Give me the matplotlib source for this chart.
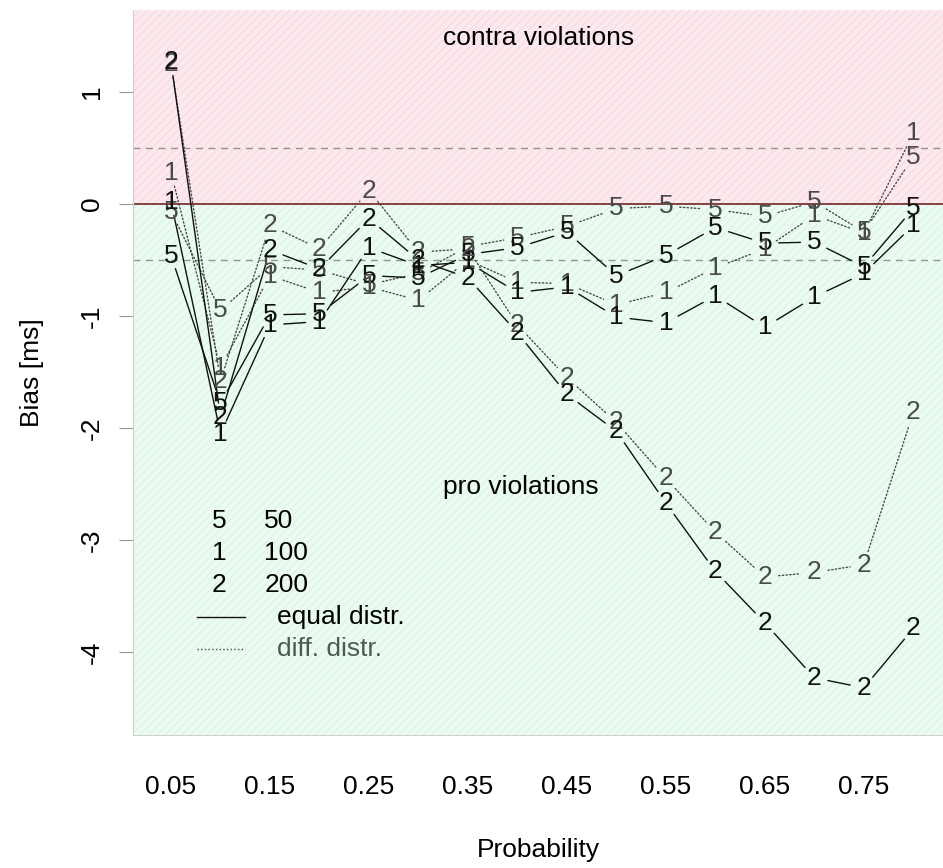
import matplotlib
matplotlib.use('Agg')
import matplotlib.pyplot as plt

plt.rcParams['font.family'] = ['Liberation Sans', 'DejaVu Sans']
plt.rcParams['hatch.linewidth'] = 0.5

# probabilities on the x axis
prob = [0.05, 0.10, 0.15, 0.20, 0.25, 0.30, 0.35, 0.40,
        0.45, 0.50, 0.55, 0.60, 0.65, 0.70, 0.75, 0.80]
tick_probs = [0.05, 0.15, 0.25, 0.35, 0.45, 0.55, 0.65, 0.75]

# bias [ms], equal / different distributions, per sample size
eq_50 = [-0.46, -1.78, -0.99, -0.98, -0.64, -0.66, -0.45, -0.39,
         -0.25, -0.64, -0.46, -0.21, -0.35, -0.34, -0.56, -0.04]
diff_50 = [-0.07, -0.95, -0.56, -0.59, -0.72, -0.62, -0.38, -0.30,
           -0.20, -0.04, -0.02, -0.05, -0.11, 0.02, -0.25, 0.42]
eq_100 = [0.02, -2.05, -1.08, -1.05, -0.39, -0.55, -0.52, -0.79,
          -0.74, -1.01, -1.06, -0.82, -1.10, -0.83, -0.62, -0.19]
diff_100 = [0.28, -1.46, -0.64, -0.79, -0.74, -0.86, -0.50, -0.70,
            -0.71, -0.90, -0.79, -0.57, -0.40, -0.10, -0.26, 0.63]
eq_200 = [1.27, -1.90, -0.41, -0.58, -0.13, -0.50, -0.66, -1.15,
          -1.70, -2.03, -2.67, -3.28, -3.74, -4.23, -4.32, -3.79]
diff_200 = [1.25, -1.58, -0.19, -0.40, 0.12, -0.43, -0.40, -1.08,
            -1.55, -1.95, -2.45, -2.93, -3.33, -3.29, -3.22, -1.86]

sizes = ['50', '100', '200']
symbols = ['5', '1', '2']

EQ_COL = '#111111'
DIFF_COL = '#4a4a4a'
FS = 19

fig = plt.figure(figsize=(9.43, 8.68), dpi=100)
ax = fig.add_axes([133 / 943, 1 - 735 / 868, 810 / 943, 725 / 868])
ymin, ymax = -4.741, 1.732
ax.set_xlim(0.0116, 0.830)
ax.set_ylim(ymin, ymax)

# shaded regions
ax.axhspan(0, ymax, facecolor='#fce9ee', edgecolor='#f6d0d9', hatch='////', lw=0, zorder=0)
ax.axhspan(ymin, 0, facecolor='#ecfbf1', edgecolor='#d0f0db', hatch='////', lw=0, zorder=0)
ax.axhline(0, color='#7a3434', lw=1.3, zorder=1)
ax.axhline(0.5, color='#9c8c8e', lw=1.0, ls=(0, (5, 4)), zorder=1)
ax.axhline(-0.5, color='#8c9a8e', lw=1.0, ls=(0, (5, 4)), zorder=1)

ax.text(0.421, 1.48, 'contra violations', ha='center', va='center', fontsize=FS)
ax.text(0.403, -2.53, 'pro violations', ha='center', va='center', fontsize=FS)


def draw(ys, sym, style, color):
    # R type="b": characters with gapped connecting segments
    for i in range(len(prob) - 1):
        ax.annotate('', xy=(prob[i + 1], ys[i + 1]), xytext=(prob[i], ys[i]),
                    arrowprops=dict(arrowstyle='-', color=color, lw=1.0,
                                    linestyle=style, shrinkA=10, shrinkB=10),
                    zorder=3)
    for x, y in zip(prob, ys):
        ax.text(x, y, sym, ha='center', va='center', fontsize=FS,
                color=color, zorder=4)


for ys_eq, ys_diff, sym in [(eq_50, diff_50, '5'), (eq_100, diff_100, '1'),
                            (eq_200, diff_200, '2')]:
    draw(ys_diff, sym, ':', DIFF_COL)
    draw(ys_eq, sym, '-', EQ_COL)

# legend (no box, R style)
rows = [0.295, 0.251, 0.207]
for sym, size, ry in zip(symbols, sizes, rows):
    ax.text(0.106, ry, sym, transform=ax.transAxes, ha='center', va='center', fontsize=FS)
    ax.text(0.162, ry, size, transform=ax.transAxes, ha='left', va='center', fontsize=FS)
ax.plot([0.079, 0.138], [0.163, 0.163], transform=ax.transAxes, color=EQ_COL, lw=1)
ax.text(0.178, 0.163, 'equal distr.', transform=ax.transAxes, ha='left', va='center', fontsize=FS)
ax.plot([0.079, 0.138], [0.119, 0.119], transform=ax.transAxes, color=DIFF_COL, lw=1, ls=':')
ax.text(0.178, 0.119, 'diff. distr.', transform=ax.transAxes, ha='left', va='center',
        fontsize=FS, color='#4d5a4f')

# axes
for side in ['top', 'right']:
    ax.spines[side].set_visible(False)
for side in ['left', 'bottom']:
    ax.spines[side].set_color('#cfcfcf')
ax.set_xticks(tick_probs)
ax.set_xticklabels(['%.2f' % p for p in tick_probs])
ax.set_yticks([-4, -3, -2, -1, 0, 1])
ax.set_yticklabels(['-4', '-3', '-2', '-1', '0', '1'], rotation=90, va='center')
ax.tick_params(axis='x', length=0, pad=29, labelsize=FS)
ax.tick_params(axis='y', length=10, color='#999999', pad=11, labelsize=FS)
ax.set_xlabel('Probability', fontsize=FS, labelpad=28)
ax.set_ylabel('Bias [ms]', fontsize=FS, labelpad=26)

fig.savefig('out.png', dpi=100)
